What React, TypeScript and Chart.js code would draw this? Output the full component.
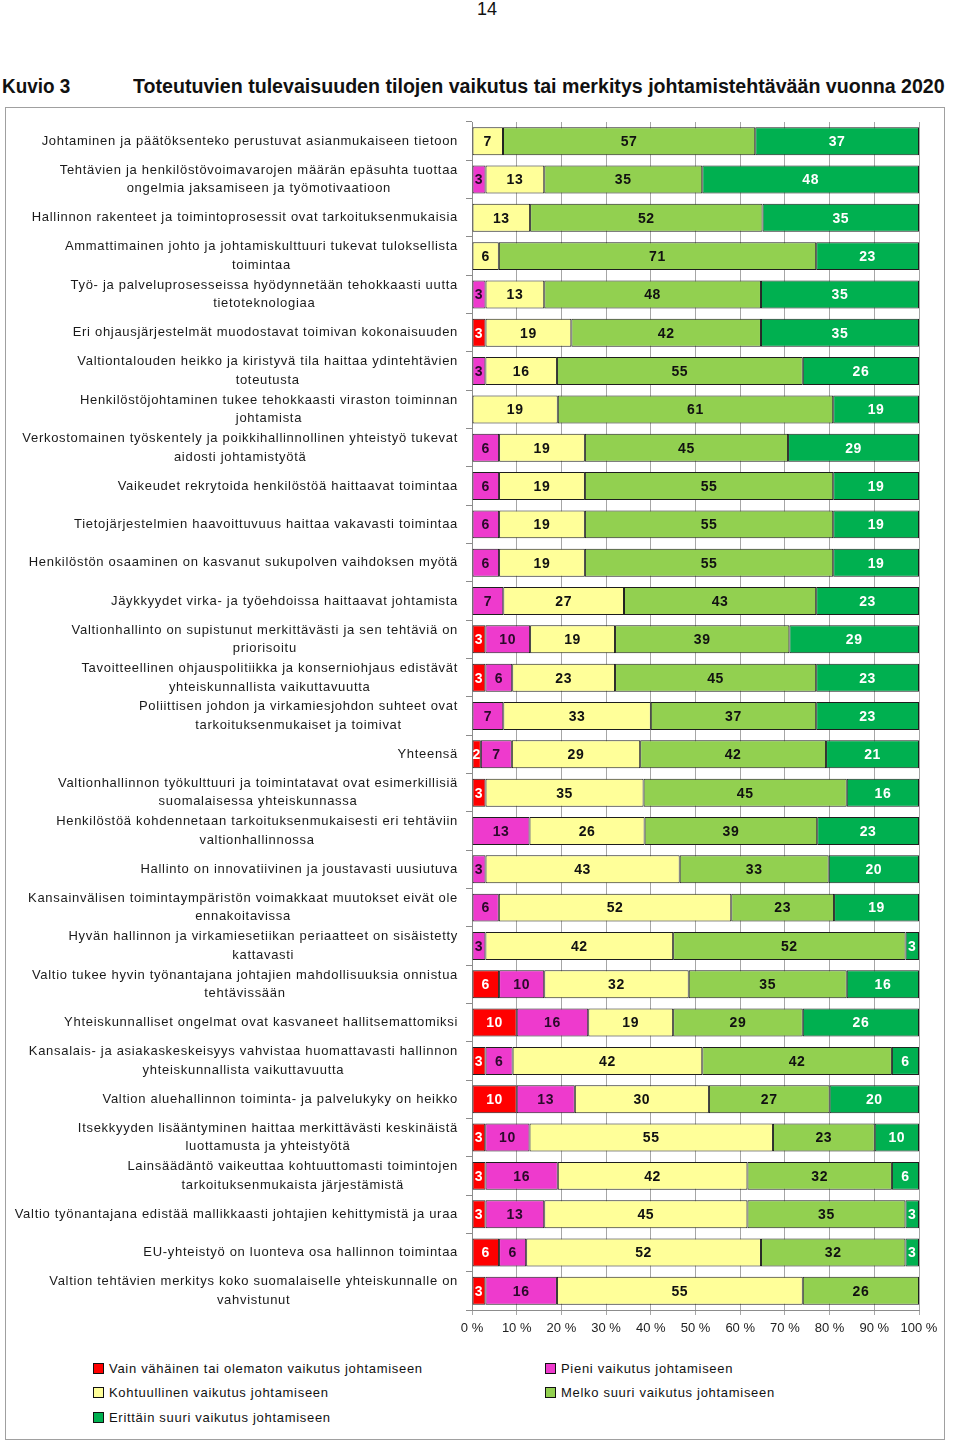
import React, { useEffect, useLayoutEffect, useRef } from "react";
import { Chart, registerables } from "chart.js";

Chart.register(...registerables);

const categories: string[][] = [
  ["Johtaminen ja päätöksenteko perustuvat asianmukaiseen tietoon"],
  ["Tehtävien ja henkilöstövoimavarojen määrän epäsuhta tuottaa", "ongelmia jaksamiseen ja työmotivaatioon"],
  ["Hallinnon rakenteet ja toimintoprosessit ovat tarkoituksenmukaisia"],
  ["Ammattimainen johto ja johtamiskulttuuri tukevat tuloksellista", "toimintaa"],
  ["Työ- ja palveluprosesseissa hyödynnetään tehokkaasti uutta", "tietoteknologiaa"],
  ["Eri ohjausjärjestelmät muodostavat toimivan kokonaisuuden"],
  ["Valtiontalouden heikko ja kiristyvä tila haittaa ydintehtävien", "toteutusta"],
  ["Henkilöstöjohtaminen tukee tehokkaasti viraston toiminnan", "johtamista"],
  ["Verkostomainen työskentely ja poikkihallinnollinen yhteistyö tukevat", "aidosti johtamistyötä"],
  ["Vaikeudet rekrytoida henkilöstöä haittaavat toimintaa"],
  ["Tietojärjestelmien haavoittuvuus haittaa vakavasti toimintaa"],
  ["Henkilöstön osaaminen on kasvanut sukupolven vaihdoksen myötä"],
  ["Jäykkyydet virka- ja työehdoissa haittaavat johtamista"],
  ["Valtionhallinto on supistunut merkittävästi ja sen tehtäviä on", "priorisoitu"],
  ["Tavoitteellinen ohjauspolitiikka ja konserniohjaus edistävät", "yhteiskunnallista vaikuttavuutta"],
  ["Poliittisen johdon ja virkamiesjohdon suhteet ovat", "tarkoituksenmukaiset ja toimivat"],
  ["Yhteensä"],
  ["Valtionhallinnon työkulttuuri ja toimintatavat ovat esimerkillisiä", "suomalaisessa yhteiskunnassa"],
  ["Henkilöstöä kohdennetaan tarkoituksenmukaisesti eri tehtäviin", "valtionhallinnossa"],
  ["Hallinto on innovatiivinen ja joustavasti uusiutuva"],
  ["Kansainvälisen toimintaympäristön voimakkaat muutokset eivät ole", "ennakoitavissa"],
  ["Hyvän hallinnon ja virkamiesetiikan periaatteet on sisäistetty", "kattavasti"],
  ["Valtio tukee hyvin työnantajana johtajien mahdollisuuksia onnistua", "tehtävissään"],
  ["Yhteiskunnalliset ongelmat ovat kasvaneet hallitsemattomiksi"],
  ["Kansalais- ja asiakaskeskeisyys vahvistaa huomattavasti hallinnon", "yhteiskunnallista vaikuttavuutta"],
  ["Valtion aluehallinnon toiminta- ja palvelukyky on heikko"],
  ["Itsekkyyden lisääntyminen haittaa merkittävästi keskinäistä", "luottamusta ja yhteistyötä"],
  ["Lainsäädäntö vaikeuttaa kohtuuttomasti toimintojen", "tarkoituksenmukaista järjestämistä"],
  ["Valtio työnantajana edistää mallikkaasti johtajien kehittymistä ja uraa"],
  ["EU-yhteistyö on luonteva osa hallinnon toimintaa"],
  ["Valtion tehtävien merkitys koko suomalaiselle yhteiskunnalle on", "vahvistunut"],
];

const seriesNames = [
  "Vain vähäinen tai olematon vaikutus johtamiseen",
  "Pieni vaikutus johtamiseen",
  "Kohtuullinen vaikutus johtamiseen",
  "Melko suuri vaikutus johtamiseen",
  "Erittäin suuri vaikutus johtamiseen",
];

const vainVahainen = [0, 0, 0, 0, 0, 3, 0, 0, 0, 0, 0, 0, 0, 3, 3, 0, 2, 3, 0, 0, 0, 0, 6, 10, 3, 10, 3, 3, 3, 6, 3];
const pieni = [0, 3, 0, 0, 3, 0, 3, 0, 6, 6, 6, 6, 7, 10, 6, 7, 7, 0, 13, 3, 6, 3, 10, 16, 6, 13, 10, 16, 13, 6, 16];
const kohtuullinen = [7, 13, 13, 6, 13, 19, 16, 19, 19, 19, 19, 19, 27, 19, 23, 33, 29, 35, 26, 43, 52, 42, 32, 19, 42, 30, 55, 42, 45, 52, 55];
const melkoSuuri = [57, 35, 52, 71, 48, 42, 55, 61, 45, 55, 55, 55, 43, 39, 45, 37, 42, 45, 39, 33, 23, 52, 35, 29, 42, 27, 23, 32, 35, 32, 26];
const erittainSuuri = [37, 48, 35, 23, 35, 35, 26, 19, 29, 19, 19, 19, 23, 29, 23, 23, 21, 16, 23, 20, 19, 3, 16, 26, 6, 20, 10, 6, 3, 3, 0];

const xTickLabels = ["0 %", "10 %", "20 %", "30 %", "40 %", "50 %", "60 %", "70 %", "80 %", "90 %", "100 %"];

const seriesColors = ["#FF0000", "#EE3ACD", "#FFFF99", "#92D050", "#00B050"];
const labelColors = ["#FFFFFF", "#2a0a2a", "#111111", "#111111", "#FFFFFF"];

const FONT = "'Liberation Sans', Arial, sans-serif";

export default function App() {
  const canvasRef = useRef<HTMLCanvasElement | null>(null);
  const titleRef = useRef<HTMLDivElement | null>(null);
  const kuvioRef = useRef<HTMLDivElement | null>(null);

  useLayoutEffect(() => {
    const fit = (el: HTMLDivElement | null, w: number) => {
      if (!el) return;
      el.style.transform = "none";
      const sw = el.scrollWidth;
      if (sw > 0) el.style.transform = `scaleX(${w / sw})`;
    };
    fit(titleRef.current, 812);
    fit(kuvioRef.current, 68);
  }, []);

  useEffect(() => {
    const canvas = canvasRef.current;
    if (!canvas) return;
    const raw = [vainVahainen, pieni, kohtuullinen, melkoSuuri, erittainSuuri];
    const totals = categories.map((_, i) => raw.reduce((s, arr) => s + arr[i], 0));
    const datasets = raw.map((arr, di) => ({
      label: seriesNames[di],
      data: arr.map((v, i) => (v / totals[i]) * 100),
      rawValues: arr,
      backgroundColor: seriesColors[di],
      borderColor: "#1e1e1e",
      borderWidth: 1,
      borderSkipped: false,
      barPercentage: 0.73,
      categoryPercentage: 1,
    }));

    const yLabelPlugin = {
      id: "yLabelPlugin",
      afterDraw(chart: any) {
        const ctx = chart.ctx;
        const y = chart.scales.y;
        ctx.save();
        ctx.font = "13px " + FONT;
        (ctx as any).letterSpacing = "0.7px";
        ctx.fillStyle = "#1a1a1a";
        ctx.textBaseline = "middle";
        ctx.textAlign = "left";
        const right = chart.chartArea.left - 14;
        categories.forEach((lines, i) => {
          const cy = y.getPixelForValue(i);
          const widths = lines.map((l) => ctx.measureText(l).width);
          const maxW = Math.max(...widths);
          const cx = right - maxW / 2;
          lines.forEach((l, k) => {
            ctx.fillText(l, cx - widths[k] / 2, cy + (k - (lines.length - 1) / 2) * 18.5);
          });
        });
        ctx.restore();
      },
    };

    const valueLabelPlugin = {
      id: "valueLabelPlugin",
      afterDatasetsDraw(chart: any) {
        const ctx = chart.ctx;
        ctx.save();
        ctx.font = "bold 14px " + FONT;
        (ctx as any).letterSpacing = "0.6px";
        ctx.textAlign = "left";
        ctx.textBaseline = "middle";
        chart.data.datasets.forEach((ds: any, di: number) => {
          const meta = chart.getDatasetMeta(di);
          meta.data.forEach((bar: any, i: number) => {
            const v = ds.rawValues[i];
            if (!v) return;
            const p = bar.getProps(["x", "y", "base"], true);
            const t = String(v);
            const w = ctx.measureText(t).width;
            ctx.fillStyle = labelColors[di];
            ctx.fillText(t, (p.x + p.base) / 2 - w / 2, p.y + 1);
          });
        });
        ctx.restore();
      },
    };

    const chart = new Chart(canvas, {
      type: "bar",
      data: {
        labels: categories.map((c) => c.join(" ")),
        datasets: datasets as any,
      },
      options: {
        indexAxis: "y",
        animation: false,
        responsive: false,
        devicePixelRatio: 1,
        layout: { padding: { top: 15, right: 41, left: 0, bottom: 0 } },
        plugins: {
          legend: { display: false },
          tooltip: { enabled: false },
        },
        scales: {
          x: {
            stacked: true,
            min: 0,
            max: 100,
            ticks: {
              stepSize: 10,
              color: "#222",
              font: { size: 13, family: FONT },
              padding: 6,
              callback: (v: any) => xTickLabels[Math.round(Number(v) / 10)],
            },
            grid: {
              color: "#a6a6a6",
              lineWidth: 1,
              tickLength: 5,
              drawTicks: true,
            },
            border: { color: "#8c8c8c" },
            afterFit: (s: any) => {
              s.height = 30;
            },
          },
          y: {
            stacked: true,
            ticks: { display: false },
            grid: {
              drawOnChartArea: false,
              drawTicks: true,
              tickLength: 6,
              color: "#8c8c8c",
              offset: true,
            },
            border: { color: "#8c8c8c" },
            afterFit: (s: any) => {
              s.width = 472;
            },
          },
        },
      },
      plugins: [yLabelPlugin, valueLabelPlugin],
    });
    return () => chart.destroy();
  }, []);

  const legendPos = [
    { x: 93, y: 1368 },
    { x: 545, y: 1368 },
    { x: 93, y: 1392 },
    { x: 545, y: 1392 },
    { x: 93, y: 1417 },
  ];

  return (
    <div style={{ position: "absolute", left: 0, top: 0, width: 960, height: 1444, background: "#fff", fontFamily: FONT, color: "#111" }}>
      <div style={{ position: "absolute", left: 0, width: 974, top: 0, textAlign: "center", fontSize: 18, lineHeight: "18px" }}>14</div>
      <div ref={kuvioRef} style={{ position: "absolute", left: 2, top: 75, fontSize: 20, fontWeight: "bold", lineHeight: "23px", whiteSpace: "nowrap", transformOrigin: "left top" }}>Kuvio 3</div>
      <div ref={titleRef} style={{ position: "absolute", left: 133, top: 75, fontSize: 20, fontWeight: "bold", lineHeight: "23px", whiteSpace: "nowrap", transformOrigin: "left top" }}>Toteutuvien tulevaisuuden tilojen vaikutus tai merkitys johtamistehtävään vuonna 2020</div>
      <div style={{ position: "absolute", left: 5, top: 107, width: 940, height: 1333, border: "1px solid #a0a0a0", boxSizing: "border-box" }} />
      <canvas ref={canvasRef} width={960} height={1233} style={{ position: "absolute", left: 0, top: 107, width: 960, height: 1233 }} />
      {seriesNames.map((name, i) => (
        <div key={name} style={{ position: "absolute", left: legendPos[i].x, top: legendPos[i].y - 9, height: 18, display: "flex", alignItems: "center", fontSize: 13, letterSpacing: "0.7px", whiteSpace: "nowrap" }}>
          <span style={{ display: "inline-block", width: 9, height: 9, background: seriesColors[i], border: "1px solid #111", marginRight: 5 }} />
          <span>{name}</span>
        </div>
      ))}
    </div>
  );
}
